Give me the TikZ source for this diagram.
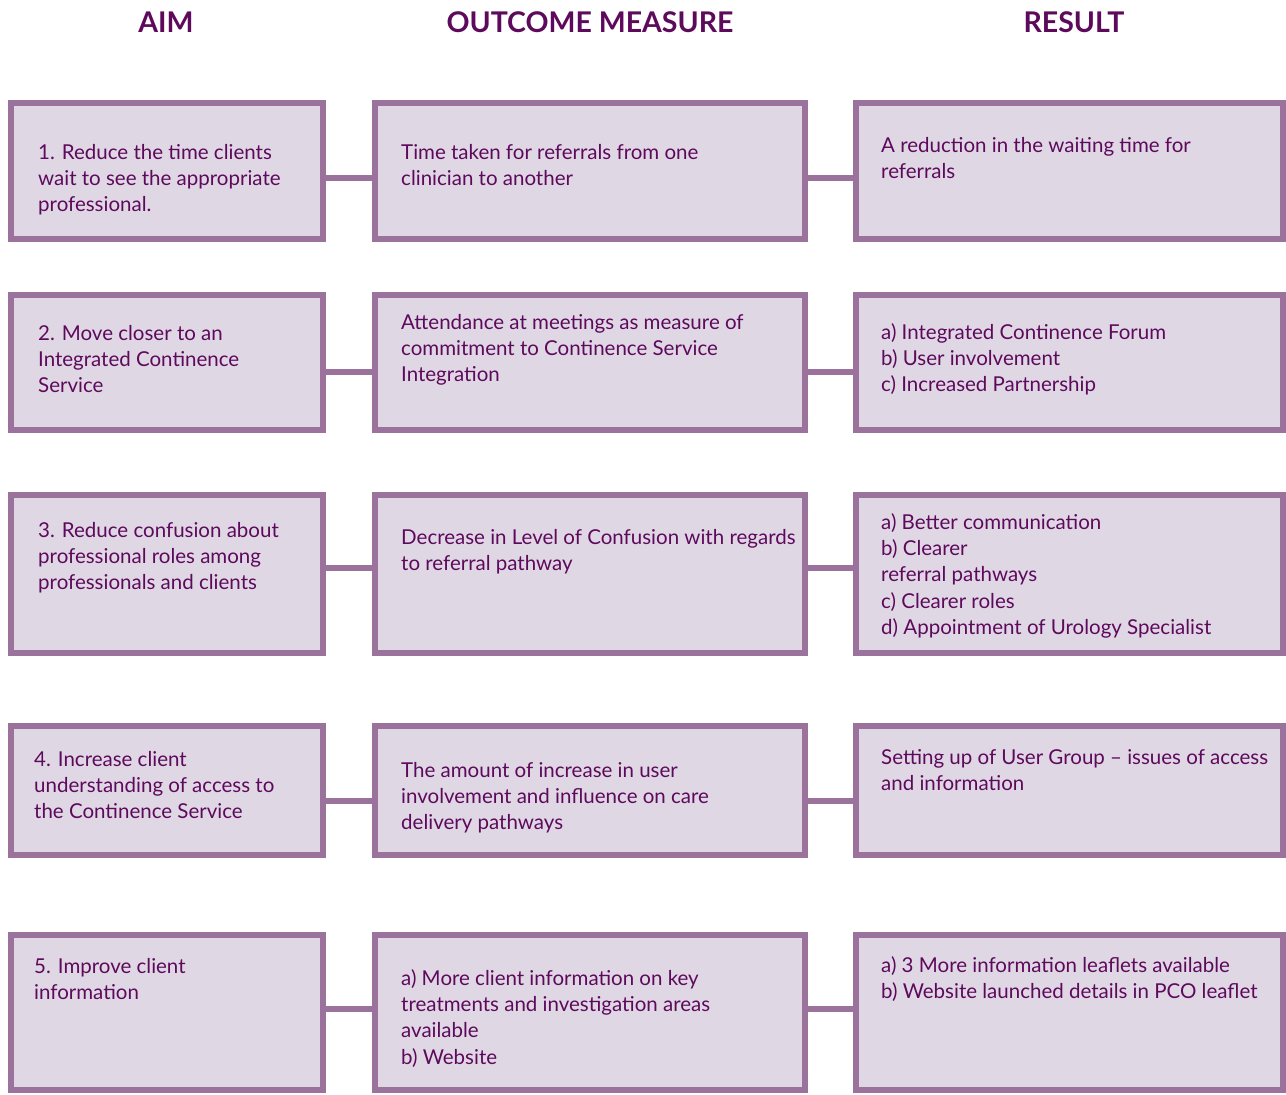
\documentclass[tikz,border=0pt]{standalone}
\usepackage{fontspec}
\setmainfont{Lato}
\usetikzlibrary{calc}

\definecolor{plum}{HTML}{5E0A5C}
\definecolor{boxline}{HTML}{9A729B}
\definecolor{boxfill}{HTML}{E0D7E5}

\tikzset{
  cell/.style={draw=boxline, fill=boxfill, line width=6pt, inner sep=0pt, rectangle},
  link/.style={draw=boxline, line width=6pt},
  txt/.style={anchor=north west, inner sep=0pt, align=left, text=plum,
    font=\fontsize{20.5}{26.3}\selectfont},
  head/.style={text=plum, inner sep=0pt, font=\fontsize{28.5}{32}\selectfont\bfseries}
}

\begin{document}
\begin{tikzpicture}[x=1pt,y=-1pt]
    \useasboundingbox (0,0) rectangle (1286,1095);

    % column titles
    \node[head] (hAim)  at (166,22)  {AIM};
    \node[head] (hMeas) at (590,22)  {OUTCOME MEASURE};
    \node[head] (hRes)  at (1074,22) {RESULT};

    % the three boxes of every row, joined by short bars
    \foreach \r/\top/\bot/\cy in {1/103/239/178, 2/295/430/372, 3/495/653/568,
                                  4/726/855/801, 5/935/1090/1009} {
        \node[cell, minimum width=312pt, minimum height={\bot-\top}] (a\r) at (167,{(\top+\bot)/2}) {};
        \node[cell, minimum width=430pt, minimum height={\bot-\top}] (m\r) at (590,{(\top+\bot)/2}) {};
        \node[cell, minimum width=427pt, minimum height={\bot-\top}] (r\r) at (1069.5,{(\top+\bot)/2}) {};
        \draw[link] (a\r.east |- 0,\cy) -- (m\r.west |- 0,\cy);
        \draw[link] (m\r.east |- 0,\cy) -- (r\r.west |- 0,\cy);
    }

    % aims
    \node[txt] (ta1) at (38,144) {1. Reduce the time clients\\wait to see the appropriate\\professional.};
    \node[txt] (ta2) at (38,325) {2. Move closer to an\\Integrated Continence\\Service};
    \node[txt] (ta3) at (38,522) {3. Reduce confusion about\\professional roles among\\professionals and clients};
    \node[txt] (ta4) at (34,751) {4. Increase client\\understanding of access to\\the Continence Service};
    \node[txt] (ta5) at (34,958) {5. Improve client\\information};

    % outcome measures
    \node[txt] (tm1) at (401,144) {Time taken for referrals from one\\clinician to another};
    \node[txt] (tm2) at (401,314) {Attendance at meetings as measure of\\commitment to Continence Service\\Integration};
    \node[txt] (tm3) at (401,529) {Decrease in Level of Confusion with regards\\to referral pathway};
    \node[txt] (tm4) at (401,762) {The amount of increase in user\\involvement and influence on care\\delivery pathways};
    \node[txt] (tm5) at (401,969) {a) More client information on key\\treatments and investigation areas\\available\\b) Website};

    % results
    \node[txt] (tr1) at (881,137) {A reduction in the waiting time for\\referrals};
    \node[txt] (tr2) at (881,323) {a) Integrated Continence Forum\\b) User involvement\\c) Increased Partnership};
    \node[txt] (tr3) at (881,513) {a) Better communication\\b) Clearer\\referral pathways\\c) Clearer roles\\d) Appointment of Urology Specialist};
    \node[txt] (tr4) at (881,749) {Setting up of User Group -- issues of access\\and information};
    \node[txt] (tr5) at (881,956) {a) 3 More information leaflets available\\b) Website launched details in PCO leaflet};
\end{tikzpicture}
\end{document}
